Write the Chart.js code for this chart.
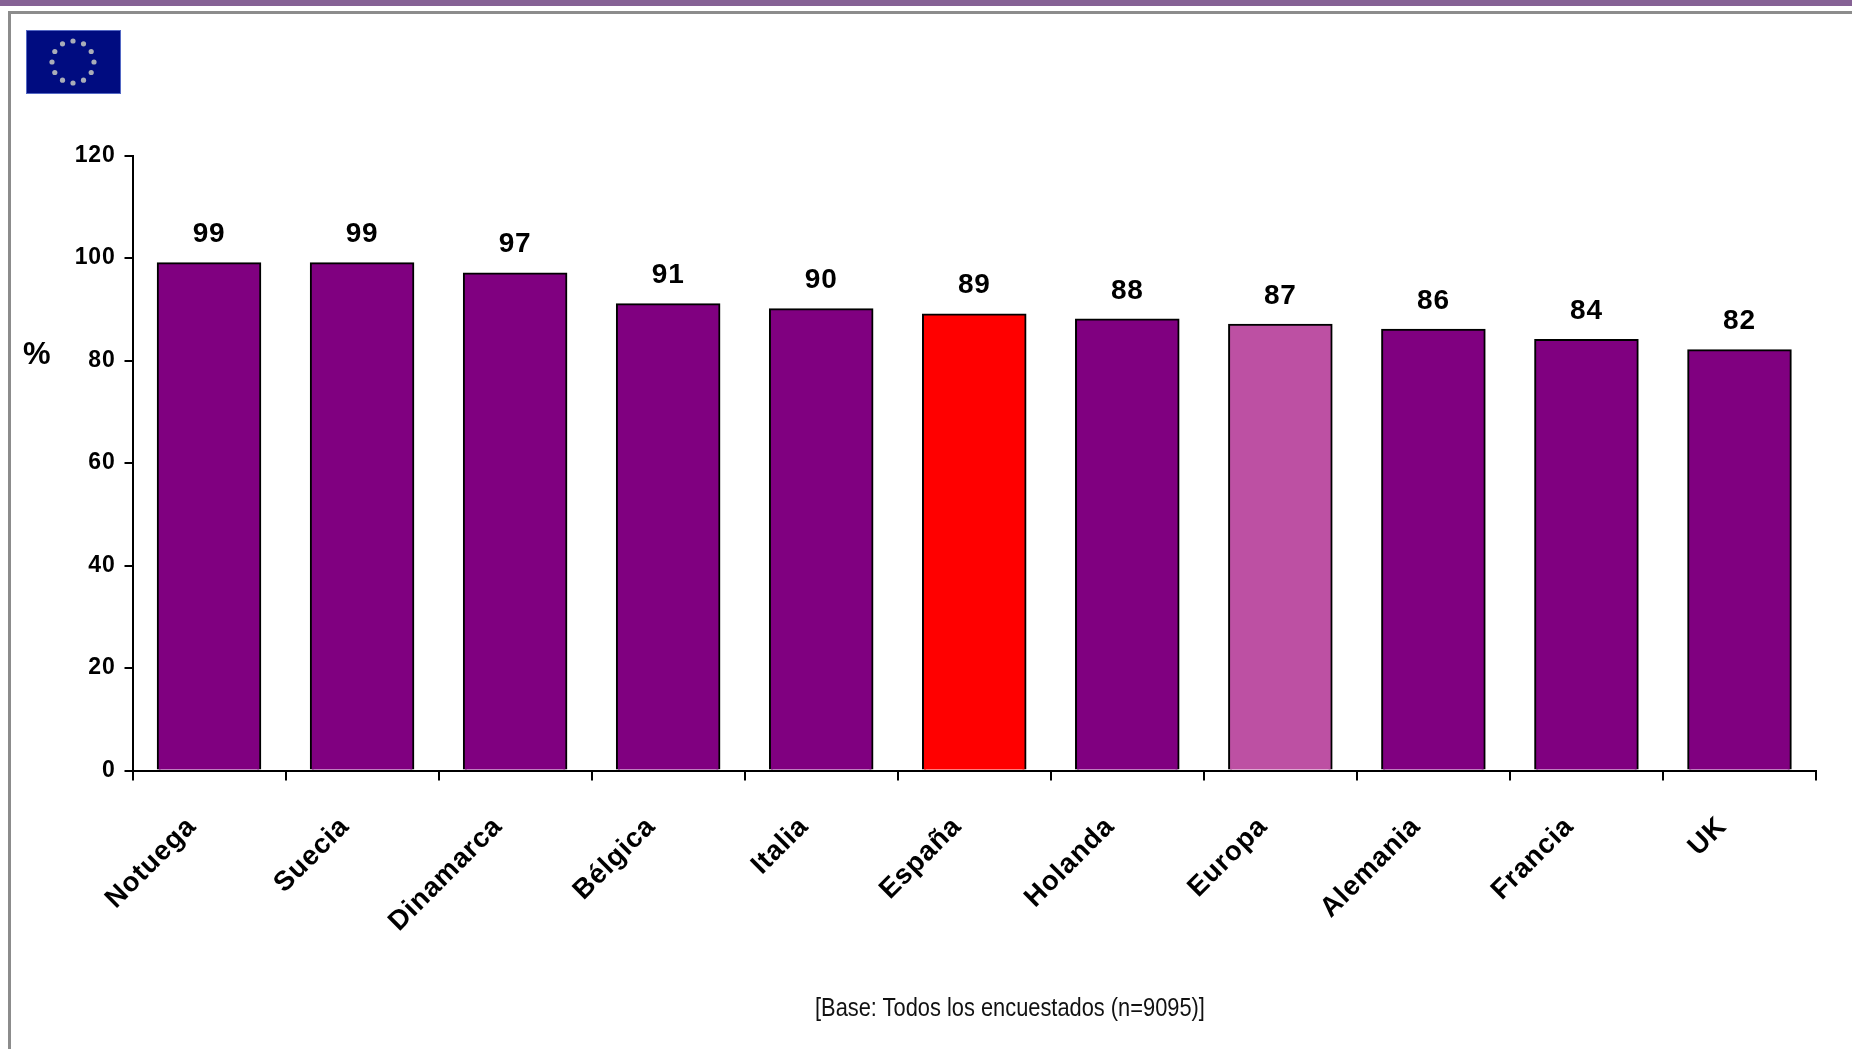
<!DOCTYPE html>
<html>
<head>
<meta charset="utf-8">
<title>Base: Todos los encuestados</title>
<script src="https://cdn.jsdelivr.net/npm/chart.js@4"></script>
<style>
html, body { margin: 0; padding: 0; background: #fff; overflow: hidden; }
#page { position: relative; width: 1852px; height: 1049px; }
#topbar { position: absolute; left: 0; top: 0; width: 1852px; height: 6px; background: #866295; }
#frameTop { position: absolute; left: 8px; top: 11px; width: 1844px; height: 3px; background: #8c8c8c; }
#frameLeft { position: absolute; left: 8px; top: 11px; width: 3px; height: 1038px; background: #8c8c8c; }
#flag { position: absolute; left: 26px; top: 30px; }
#grafico { position: absolute; left: 0; top: 0; }
#unidad { position: absolute; left: 23px; top: 336px; font: bold 31px "Liberation Sans", Arial, sans-serif; color: #000; }
#base { position: absolute; left: 815px; top: 992px; font: 26px "Liberation Sans", sans-serif; color: #111; white-space: nowrap; transform: scaleX(0.84); transform-origin: left center; }
</style>
</head>
<body>
<div id="page">
  <canvas id="grafico" width="1852" height="1049"></canvas>
  <div id="topbar"></div>
  <div id="frameTop"></div>
  <div id="frameLeft"></div>
  <svg id="flag" width="95" height="64" viewBox="0 0 95 64"></svg>
  <div id="unidad">%</div>
  <div id="base">[Base: Todos los encuestados (n=9095)]</div>
</div>
<script>
const paises = ['Notuega', 'Suecia', 'Dinamarca', 'Bélgica', 'Italia', 'España', 'Holanda', 'Europa', 'Alemania', 'Francia', 'UK'];
const valores = [99, 99, 97, 91, 90, 89, 88, 87, 86, 84, 82];
const colores = ['#800080', '#800080', '#800080', '#800080', '#800080', '#ff0000', '#800080', '#bd50a3', '#800080', '#800080', '#800080'];
const marcasY = [0, 20, 40, 60, 80, 100, 120];

// bandera de la UE
let svg = '<rect x="0.5" y="0.5" width="94" height="63" fill="#000c80" stroke="#5468c4"/>';
for (let i = 0; i < 12; i++) {
    const a = i * Math.PI / 6;
    svg += '<circle cx="' + (47 + 21 * Math.sin(a)).toFixed(1) + '" cy="' + (32 - 21 * Math.cos(a)).toFixed(1) + '" r="2.6" fill="#a9adb8"/>';
}
document.getElementById('flag').innerHTML = svg;

// el original tiene el texto algo espaciado
const espaciado = {
    id: 'espaciado',
    beforeUpdate(chart) { chart.ctx.letterSpacing = '0.8px'; },
    beforeDraw(chart) { chart.ctx.letterSpacing = '0.8px'; }
};

// etiquetas de valor encima de cada barra
const etiquetas = {
    id: 'etiquetas',
    afterDatasetsDraw(chart) {
        const ctx = chart.ctx;
        const barras = chart.getDatasetMeta(0).data;
        ctx.save();
        ctx.font = 'bold 28px "Liberation Sans", Arial, sans-serif';
        ctx.fillStyle = '#000';
        ctx.textAlign = 'center';
        ctx.textBaseline = 'alphabetic';
        barras.forEach(function (b, i) {
            ctx.fillText(valores[i], b.x, b.y - 21);
        });
        ctx.restore();
    }
};

const ctx = document.getElementById('grafico').getContext('2d');
new Chart(ctx, {
    type: 'bar',
    data: {
        labels: paises,
        datasets: [{
            data: valores,
            backgroundColor: colores,
            borderColor: '#000',
            borderWidth: 2,
            inflateAmount: 1,
            categoryPercentage: 1,
            barPercentage: 0.67
        }]
    },
    plugins: [espaciado, etiquetas],
    options: {
        responsive: false,
        animation: false,
        layout: { padding: { top: 155.5, right: 36, left: 0, bottom: 0 } },
        plugins: { legend: { display: false }, tooltip: { enabled: false } },
        scales: {
            x: {
                offset: true,
                afterFit(scale) { scale.height = 278.5; },
                grid: { drawOnChartArea: false, color: '#000', lineWidth: 2, tickLength: 10, offset: true },
                border: { color: '#000', width: 2 },
                ticks: {
                    autoSkip: false,
                    minRotation: 45,
                    maxRotation: 45,
                    padding: 30,
                    labelOffset: -17,
                    color: '#000',
                    font: { family: '"Liberation Sans", Arial, sans-serif', size: 27.5, weight: 'bold' }
                }
            },
            y: {
                min: 0,
                max: 120,
                afterFit(scale) { scale.width = 132.5; },
                afterBuildTicks(scale) { scale.ticks = marcasY.map(function (v) { return { value: v }; }); },
                grid: { drawOnChartArea: false, color: '#000', lineWidth: 2, tickLength: 8 },
                border: { color: '#000', width: 2 },
                ticks: {
                    padding: 9,
                    color: '#000',
                    font: { family: '"Liberation Sans", Arial, sans-serif', size: 23, weight: 'bold' }
                }
            }
        }
    }
});
</script>
</body>
</html>
